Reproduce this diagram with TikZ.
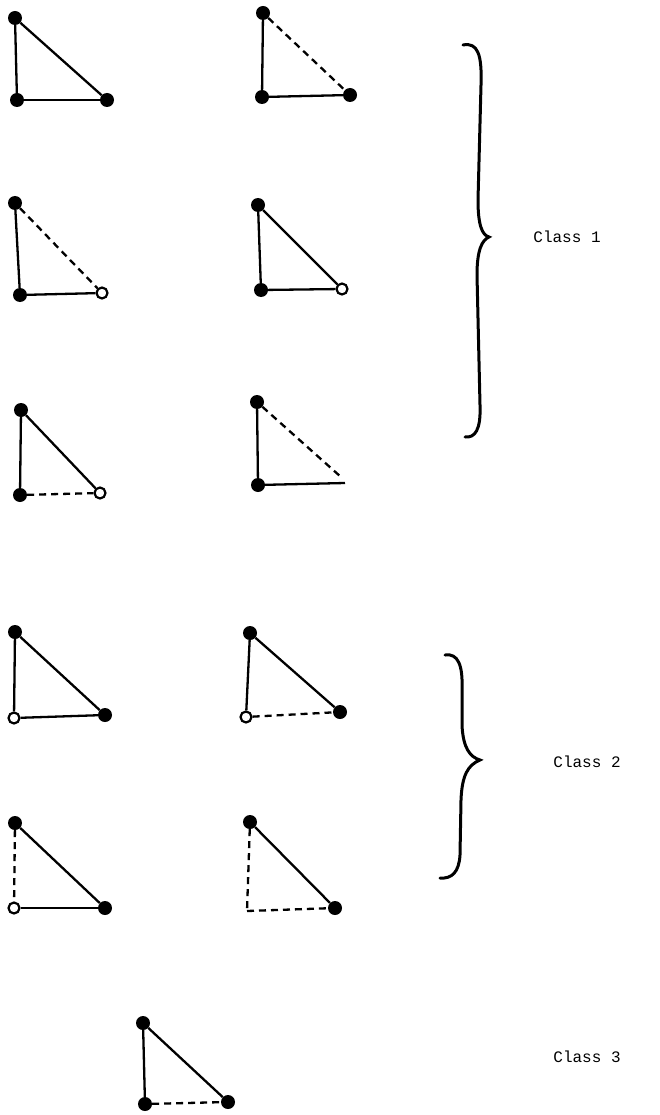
\documentclass[tikz,border=0pt]{standalone}
\usepackage{fontspec}
\setmonofont{Liberation Mono}
\begin{document}
\begin{tikzpicture}[x=1pt,y=-1pt,
  fv/.style={circle,fill=black,inner sep=0pt,minimum size=14pt},
  ov/.style={circle,draw=black,fill=white,line width=2.2pt,inner sep=0pt,minimum size=11pt},
  edg/.style={line width=2.3pt},
  dsh/.style={line width=2.3pt,dash pattern=on 7pt off 5pt},
  brc/.style={line width=3pt,line cap=round},
  lbl/.style={font=\ttfamily\fontsize{16}{19}\selectfont,inner sep=0pt}]
\useasboundingbox (0,0) rectangle (659,1115);
% T1
\node[fv] (a1) at (15,18) {};
\node[fv] (b1) at (17,100) {};
\node[fv] (c1) at (107,100) {};
\draw[edg] (a1) -- (b1); \draw[edg] (b1) -- (c1); \draw[edg] (a1) -- (c1);
% T2
\node[fv] (a2) at (263,13) {};
\node[fv] (b2) at (262,97) {};
\node[fv] (c2) at (350,95) {};
\draw[edg] (a2) -- (b2); \draw[edg] (b2) -- (c2); \draw[dsh] (a2) -- (c2);
% T3
\node[fv] (a3) at (15,203) {};
\node[fv] (b3) at (20,295) {};
\node[ov] (c3) at (102,293) {};
\draw[edg] (a3) -- (b3); \draw[edg] (b3) -- (c3); \draw[dsh] (a3) -- (c3);
% T4
\node[fv] (a4) at (258,205) {};
\node[fv] (b4) at (261,290) {};
\node[ov] (c4) at (342,289) {};
\draw[edg] (a4) -- (b4); \draw[edg] (b4) -- (c4); \draw[edg] (a4) -- (c4);
% T5
\node[fv] (a5) at (21,410) {};
\node[fv] (b5) at (20,495) {};
\node[ov] (c5) at (100,493) {};
\draw[edg] (a5) -- (b5); \draw[dsh] (b5) -- (c5); \draw[edg] (a5) -- (c5);
% T6
\node[fv] (a6) at (257,402) {};
\node[fv] (b6) at (258,485) {};
\coordinate (c6) at (345,483);
\coordinate (d6) at (341,477);
\draw[edg] (a6) -- (b6); \draw[edg] (b6) -- (c6); \draw[dsh] (a6) -- (d6);
% T7
\node[fv] (a7) at (15,632) {};
\node[ov] (b7) at (14,718) {};
\node[fv] (c7) at (105,715) {};
\draw[edg] (a7) -- (b7); \draw[edg] (b7) -- (c7); \draw[edg] (a7) -- (c7);
% T8
\node[fv] (a8) at (250,633) {};
\node[ov] (b8) at (246,717) {};
\node[fv] (c8) at (340,712) {};
\draw[edg] (a8) -- (b8); \draw[dsh] (b8) -- (c8); \draw[edg] (a8) -- (c8);
% T9
\node[fv] (a9) at (15,823) {};
\node[ov] (b9) at (14,908) {};
\node[fv] (c9) at (105,908) {};
\draw[dsh] (a9) -- (b9); \draw[edg] (b9) -- (c9); \draw[edg] (a9) -- (c9);
% T10
\node[fv] (a10) at (250,822) {};
\coordinate (b10) at (247,911);
\node[fv] (c10) at (335,908) {};
\draw[dsh] (a10) -- (b10); \draw[dsh] (b10) -- (c10); \draw[edg] (a10) -- (c10);
% T11
\node[fv] (a11) at (143,1023) {};
\node[fv] (b11) at (145,1104) {};
\node[fv] (c11) at (228,1102) {};
\draw[edg] (a11) -- (b11); \draw[dsh] (b11) -- (c11); \draw[edg] (a11) -- (c11);
% braces
\draw[brc] (463,45) .. controls (478,42) and (482,55) .. (481,85)
  -- (478,200) .. controls (478,225) and (482,235) .. (489,237)
  .. controls (482,240) and (477,250) .. (477,275)
  -- (480,405) .. controls (481,430) and (475,438) .. (465,437);
\draw[brc] (445,655) .. controls (458,653) and (463,665) .. (462,690)
  -- (462,725) .. controls (463,748) and (470,757) .. (480,760)
  .. controls (468,765) and (462,775) .. (461,800)
  -- (460,855) .. controls (459,872) and (452,879) .. (440,878);
\node[lbl] (k1) at (567,237) {Class 1};
\node[lbl] (k2) at (587,762) {Class 2};
\node[lbl] (k3) at (587,1057) {Class 3};
\end{tikzpicture}
\end{document}
